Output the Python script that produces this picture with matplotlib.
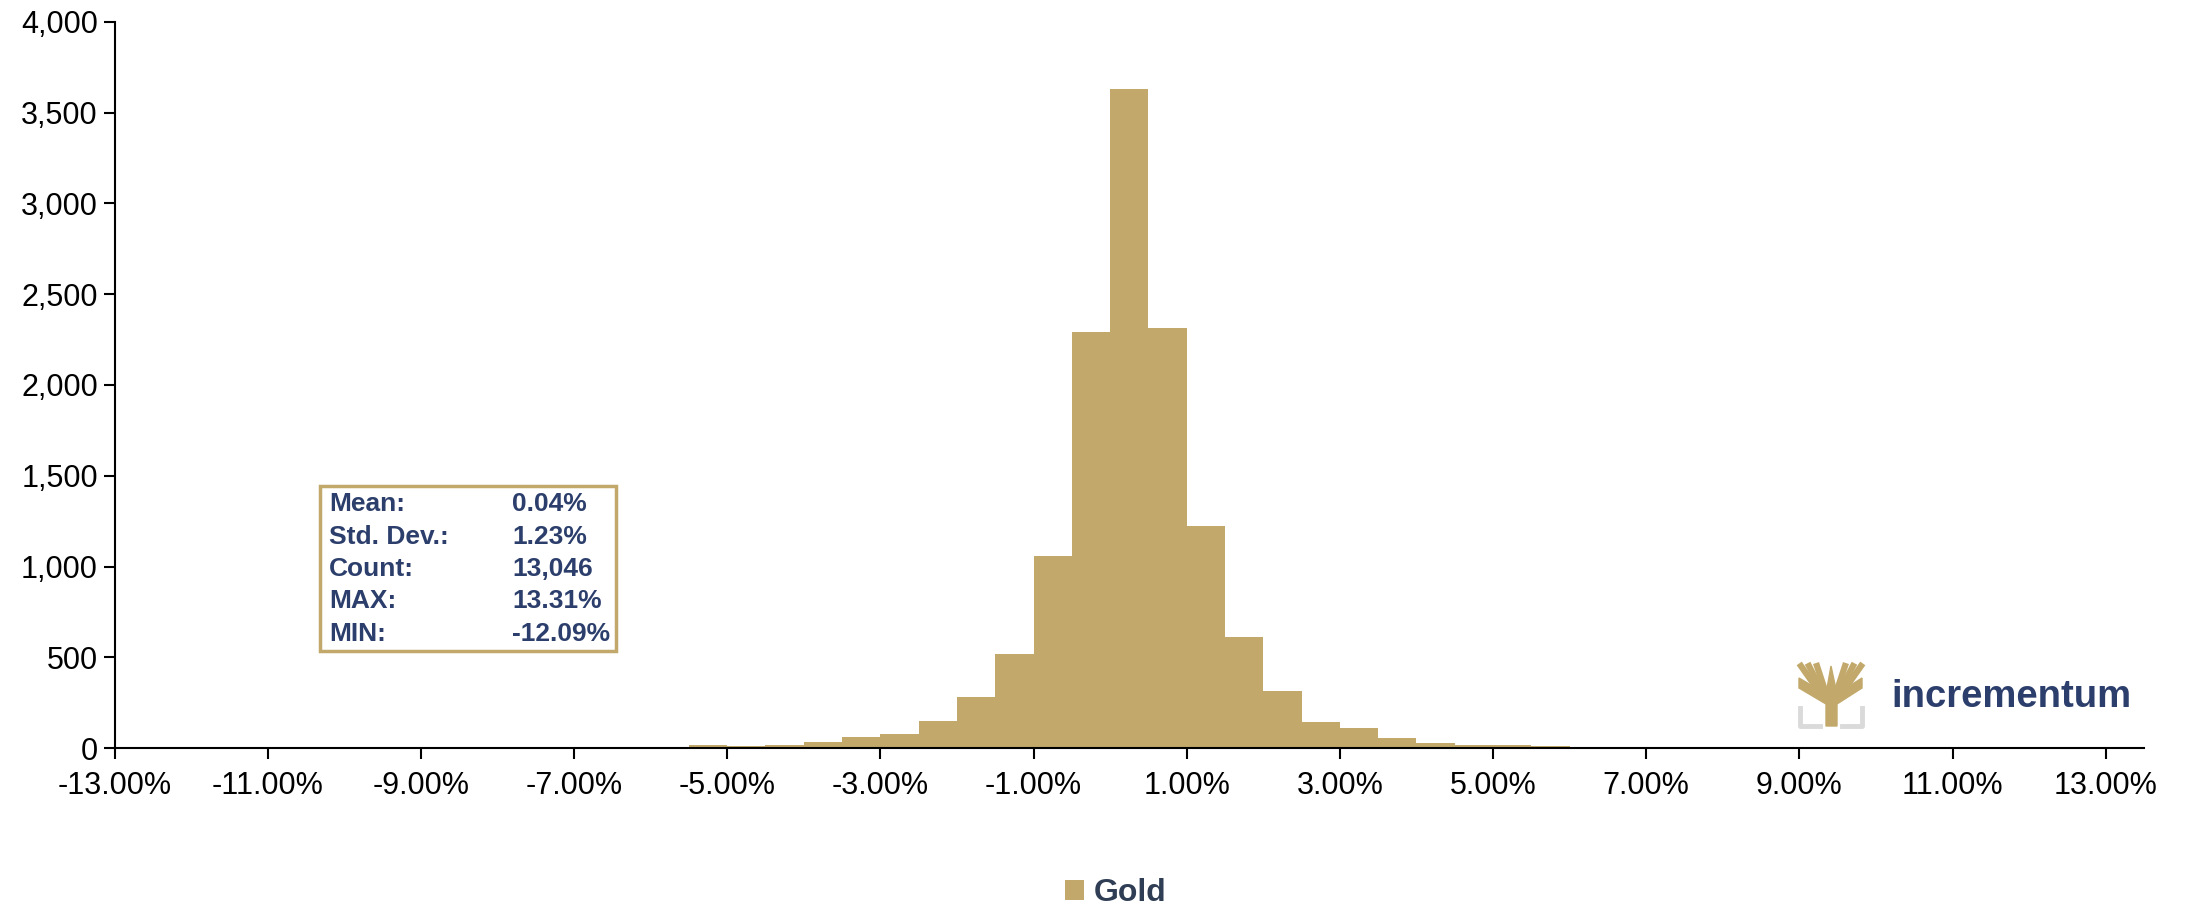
"""
Gold daily returns histogram (Incrementum style)
Bins are 0.5% wide, bar left edges listed below
"""

import numpy as np
import matplotlib.pyplot as plt
from matplotlib.patches import Rectangle, Polygon
from matplotlib.ticker import FuncFormatter

plt.rcParams['font.family'] = ['Liberation Sans', 'DejaVu Sans']

# Left edge of each bin (in %) and count of days in it
bin_left = [-12.5, -9.0, -8.5, -8.0, -7.5, -7.0, -6.5, -6.0, -5.5, -5.0, -4.5, -4.0,
            -3.5, -3.0, -2.5, -2.0, -1.5, -1.0, -0.5, 0.0, 0.5, 1.0, 1.5, 2.0,
            2.5, 3.0, 3.5, 4.0, 4.5, 5.0, 5.5, 6.0, 6.5, 7.0, 7.5, 8.0, 13.0]
counts = [1, 1, 1, 2, 3, 4, 6, 9, 17, 13, 18, 35,
          60, 77, 152, 282, 521, 1059, 2290, 3630, 2315, 1222, 614, 317,
          143, 111, 57, 27, 16, 16, 12, 8, 4, 2, 1, 1, 1]
bin_width = 0.5

stat_names = ["Mean:", "Std. Dev.:", "Count:", "MAX:", "MIN:"]
stat_values = ["0.04%", "1.23%", "13,046", "13.31%", "-12.09%"]

x_ticks = list(range(-13, 14, 2))
y_ticks = [0, 500, 1000, 1500, 2000, 2500, 3000, 3500, 4000]

gold = '#C2A96B'
navy = '#2C3E6B'

W, H = 2201, 907
fig = plt.figure(figsize=(W / 100, H / 100), dpi=100)
ax = fig.add_axes([114.5 / W, 1 - 748.3 / H, (2144 - 114.5) / W, (748.3 - 21.7) / H])

bars = ax.bar(bin_left, counts, width=bin_width, align='edge', color=gold,
              linewidth=0, label='Gold')

ax.set_xlim(-13, 13.5)
ax.set_ylim(0, 4000)
ax.set_xticks(x_ticks)
ax.set_yticks(y_ticks)
ax.xaxis.set_major_formatter(FuncFormatter(lambda v, p: f"{v:.2f}%"))
ax.yaxis.set_major_formatter(FuncFormatter(lambda v, p: f"{int(v):,}"))
ax.tick_params(axis='both', direction='out', length=8, width=1.5, labelsize=22, colors='black')
ax.tick_params(axis='x', pad=8)
ax.tick_params(axis='y', pad=4)

for s in ['top', 'right']:
    ax.spines[s].set_visible(False)
for s in ['left', 'bottom']:
    ax.spines[s].set_linewidth(1.5)

# Stats box
def fx(px):
    return px / W

def fy(py):
    return 1 - py / H

fig.patches.append(Rectangle((fx(320), fy(651)), fx(615.5) - fx(320), fy(485.7) - fy(651),
                             transform=fig.transFigure, fill=False, edgecolor=gold, linewidth=2.5))
for i, (name, val) in enumerate(zip(stat_names, stat_values)):
    y = fy(504 + i * 32.5)
    fig.text(fx(329), y, name, color=navy, fontsize=19, fontweight='bold', va='center')
    fig.text(fx(512), y, val, color=navy, fontsize=19, fontweight='bold', va='center')

# Logo: simple tree mark plus word
gold_tree = [(1826, 726), (1837, 726), (1837, 704), (1862, 688), (1862, 678), (1837, 694),
             (1831, 666), (1826, 694), (1799, 678), (1799, 688), (1826, 704)]
fig.patches.append(Polygon([(fx(a), fy(b)) for a, b in gold_tree], closed=True,
                           transform=fig.transFigure, color=gold))
for bx in [1801, 1809, 1817, 1845, 1853, 1861]:
    fig.add_artist(plt.Line2D([fx(bx), fx(1831 + (bx - 1831) * 0.25)], [fy(666), fy(698)],
                              transform=fig.transFigure, color=gold, linewidth=4.5))
for pts in [[(1800, 708), (1800, 726), (1820, 726)], [(1842, 726), (1862, 726), (1862, 708)]]:
    fig.add_artist(plt.Line2D([fx(a) for a, b in pts], [fy(b) for a, b in pts],
                              transform=fig.transFigure, color='#DADADA', linewidth=3.5))
fig.text(fx(1891), fy(697), "incrementum", color=navy, fontsize=27.5, fontweight='bold', va='center')

# Legend at bottom
fig.legend(handles=[bars], labels=['Gold'], loc='center', bbox_to_anchor=(fx(1116), fy(893)),
           frameon=False, prop={'weight': 'bold', 'size': 23}, labelcolor='#2F3E55',
           handlelength=0.6, handleheight=0.6, handletextpad=0.3)

fig.savefig("out.png", dpi=100)
